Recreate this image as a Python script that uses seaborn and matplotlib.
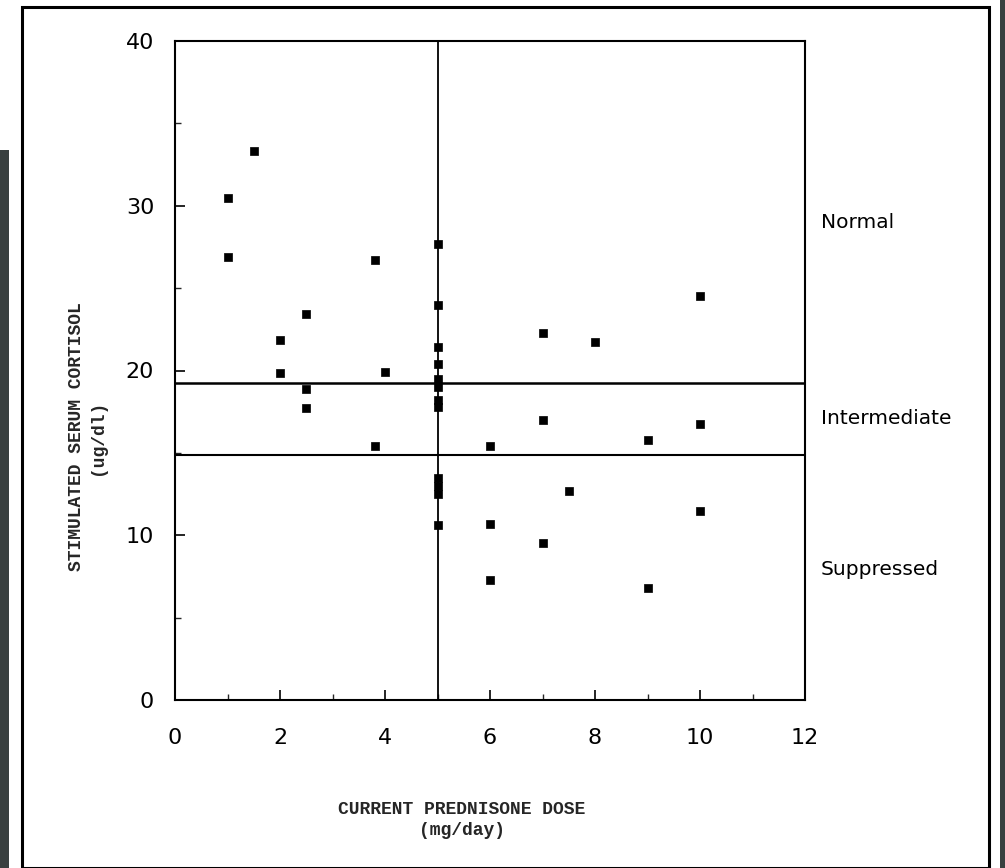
import numpy as np
import pandas as pd
import matplotlib
matplotlib.use("Agg")
import matplotlib.pyplot as plt
from matplotlib.patches import Rectangle
import seaborn as sns

# ---- data ----
dose = [1, 1, 1.5, 2, 2, 2.5, 2.5, 2.5, 3.8, 3.8, 4,
        5, 5, 5, 5, 5, 5, 5, 5, 5, 5, 5, 5,
        6, 6, 6, 7, 7, 7, 7.5, 8, 9, 9, 10, 10, 10]
cortisol = [30.5, 26.9, 33.3, 21.85, 19.85, 23.4, 18.9, 17.7, 26.7, 15.4, 19.9,
            27.7, 24.0, 21.4, 20.4, 19.5, 19.0, 18.2, 17.8, 13.5, 13.0, 12.5, 10.6,
            15.4, 10.7, 7.3, 22.3, 17.0, 9.5, 12.7, 21.7, 15.8, 6.8, 24.5, 16.75, 11.5]
cut_dose = 5
cut_normal = 19.25
cut_suppressed = 14.9
zone_labels = ["Normal", "Intermediate", "Suppressed"]
zone_label_y = [29.0, 17.1, 7.9]
x_ticks = [0, 2, 4, 6, 8, 10, 12]
y_ticks = [0, 10, 20, 30, 40]
y_tick_labels = ["0", "10", "20", "30", "40"]

df = pd.DataFrame({"dose": dose, "cortisol": cortisol})

sns.set_theme(style="white")
plt.rcParams["font.family"] = ["DejaVu Sans"]

W, H = 1005, 868
fig = plt.figure(figsize=(W / 100, H / 100), dpi=100)
fig.patch.set_facecolor("white")
ax = fig.add_axes([175 / W, 1 - 700 / H, 630 / W, 659 / H])

sns.scatterplot(data=df, x="dose", y="cortisol", ax=ax, marker="s", s=40,
                color="black", edgecolor="black", linewidth=0.5, legend=False, zorder=3)

ax.axvline(cut_dose, color="black", lw=1.3, zorder=2)
ax.axhline(cut_normal, color="black", lw=1.8, zorder=2)
ax.axhline(cut_suppressed, color="black", lw=1.5, zorder=2)

ax.set_xlim(0, 12)
ax.set_ylim(0, 40)
ax.set_xticks(x_ticks)
ax.set_xticks(np.arange(0, 13, 1), minor=True)
ax.set_yticks(y_ticks)
ax.set_yticklabels(y_tick_labels)
ax.set_yticks(np.arange(0, 41, 5), minor=True)
ax.tick_params(axis="both", which="major", direction="in", length=7, width=1.2,
               labelsize=16, colors="black")
ax.tick_params(axis="both", which="minor", direction="in", length=4, width=1.0)
ax.tick_params(axis="x", which="both", bottom=True, top=False)
ax.tick_params(axis="y", which="both", left=True, right=False)
ax.tick_params(axis="x", which="major", pad=20)
ax.tick_params(axis="y", which="major", pad=15)
for s in ax.spines.values():
    s.set_color("black")
    s.set_linewidth(1.5)
ax.set_xlabel("")
ax.set_ylabel("")

for lab, yy in zip(zone_labels, zone_label_y):
    ax.text(12.3, yy, lab, fontsize=14.5, color="black", va="center", ha="left",
            clip_on=False)

mono = ["Liberation Mono", "DejaVu Sans Mono"]
fig.text(462 / W, 1 - 820 / H, "CURRENT PREDNISONE DOSE\n(mg/day)", ha="center",
         va="center", fontsize=13, family=mono, fontweight="bold", linespacing=1.3)
fig.text(87 / W, 1 - 437 / H, "STIMULATED SERUM CORTISOL\n(ug/dl)", ha="center",
         va="center", rotation=90, fontsize=13, family=mono, fontweight="bold",
         linespacing=1.3)

# scanned page frame and edge strips
fig.patches.append(Rectangle((22 / W, 0), (989 - 22) / W, 1 - 7 / H,
                             transform=fig.transFigure, fill=False,
                             edgecolor="black", lw=2.2))
fig.patches.append(Rectangle((0, 0), 9 / W, 1 - 150 / H, transform=fig.transFigure,
                             facecolor="#394040", edgecolor="none"))
fig.patches.append(Rectangle((1000 / W, 0), 5 / W, 1, transform=fig.transFigure,
                             facecolor="#394040", edgecolor="none"))

fig.savefig("out.png", dpi=100, facecolor="white")
